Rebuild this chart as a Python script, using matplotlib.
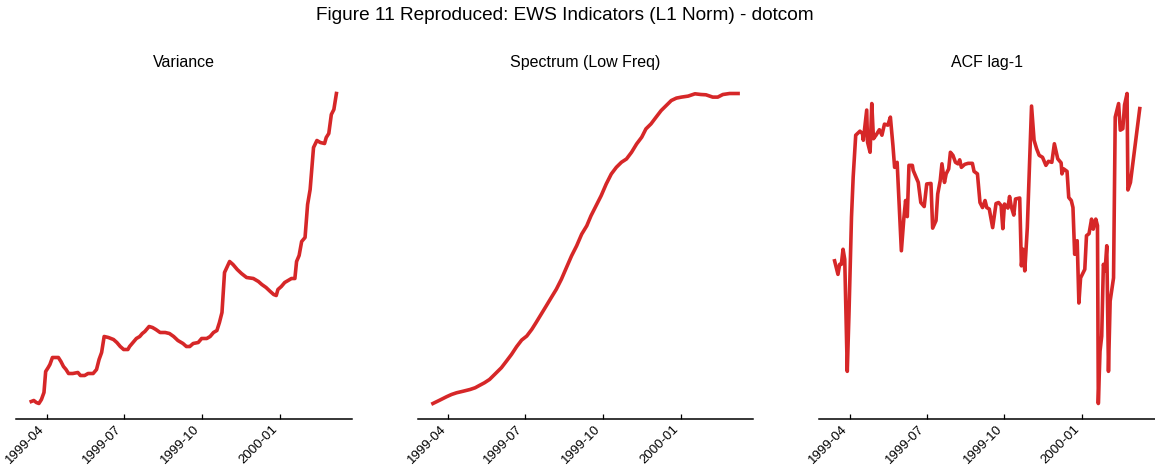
import pandas as pd
import matplotlib
matplotlib.use("Agg")
import matplotlib.pyplot as plt

plt.rcParams['font.family'] = ['Liberation Sans', 'DejaVu Sans']

# day offsets from 1999-04-01 and values (y scale is hidden)
start = pd.Timestamp('1999-04-01')

var_days = [-18, -15, -12, -9, -6, -3, -1, 2, 4, 7, 14, 17, 20, 23, 26, 31, 37,
            40, 45, 49, 55, 59, 62, 65, 68, 73, 79, 83, 87, 91, 96, 98, 102, 106,
            110, 113, 116, 121, 125, 129, 134, 140, 145, 150, 155, 161, 165, 169,
            173, 179, 183, 189, 193, 197, 201, 204, 207, 210, 216, 220, 225, 230,
            236, 244, 250, 254, 259, 264, 268, 271, 273, 277, 281, 285, 289, 293,
            295, 298, 301, 305, 308, 311, 315, 319, 323, 328, 330, 333, 336, 339, 342]
var_vals = [0.17, 0.18, 0.16, 0.15, 0.19, 0.26, 0.47, 0.51, 0.54, 0.61, 0.61, 0.57,
            0.52, 0.49, 0.45, 0.45, 0.46, 0.43, 0.43, 0.45, 0.45, 0.49, 0.59, 0.66,
            0.82, 0.81, 0.79, 0.76, 0.72, 0.69, 0.69, 0.72, 0.76, 0.80, 0.82, 0.85,
            0.87, 0.92, 0.91, 0.89, 0.86, 0.86, 0.85, 0.82, 0.78, 0.75, 0.72, 0.72,
            0.75, 0.76, 0.80, 0.80, 0.82, 0.86, 0.88, 0.96, 1.06, 1.46, 1.57, 1.54,
            1.49, 1.45, 1.41, 1.40, 1.37, 1.34, 1.31, 1.27, 1.24, 1.23, 1.29, 1.32,
            1.36, 1.38, 1.40, 1.40, 1.57, 1.63, 1.77, 1.81, 2.14, 2.29, 2.71, 2.78,
            2.76, 2.75, 2.81, 2.85, 3.04, 3.09, 3.25]

spec_days = [-18, -10, -2, 4, 10, 18, 26, 32, 37, 43, 49, 55, 63, 69, 75, 81, 87,
             93, 99, 104, 110, 116, 122, 128, 134, 140, 146, 152, 158, 164, 169,
             175, 181, 187, 193, 199, 205, 211, 217, 223, 229, 234, 240, 246, 252,
             258, 264, 270, 276, 284, 292, 299, 305, 313, 319, 325, 333, 343]
spec_vals = [0.150, 0.183, 0.217, 0.240, 0.257, 0.273, 0.290, 0.307, 0.330, 0.357,
             0.390, 0.440, 0.507, 0.573, 0.640, 0.717, 0.783, 0.823, 0.890, 0.957,
             1.040, 1.123, 1.207, 1.290, 1.390, 1.507, 1.623, 1.723, 1.840, 1.923,
             2.023, 2.123, 2.223, 2.340, 2.440, 2.507, 2.557, 2.590, 2.657, 2.740,
             2.807, 2.890, 2.940, 3.007, 3.073, 3.123, 3.173, 3.197, 3.207, 3.217,
             3.240, 3.233, 3.230, 3.207, 3.207, 3.233, 3.243, 3.243]

acf_days = [-18, -14, -12, -10, -8, -6, -3, -1, 2, 4, 7, 12, 15, 16, 20, 21, 24,
            26, 28, 31, 35, 38, 41, 45, 48, 51, 53, 56, 61, 64, 66, 68, 70, 74, 75,
            81, 84, 88, 89, 91, 96, 98, 102, 104, 107, 109, 112, 114, 117, 119, 122,
            125, 128, 130, 132, 136, 140, 145, 147, 151, 154, 157, 160, 162, 165,
            169, 173, 176, 179, 181, 183, 187, 189, 191, 194, 196, 201, 203, 205,
            207, 210, 215, 218, 221, 224, 228, 232, 235, 239, 242, 246, 250, 251,
            253, 257, 259, 262, 264, 266, 269, 271, 273, 278, 280, 283, 286, 288,
            291, 293, 294, 296, 298, 300, 302, 304, 306, 308, 312, 314, 318, 320,
            323, 325, 328, 329, 332, 343]
acf_vals = [0.515, 0.488, 0.508, 0.508, 0.538, 0.518, 0.295, 0.408, 0.602, 0.682,
            0.765, 0.773, 0.768, 0.755, 0.815, 0.751, 0.731, 0.828, 0.758, 0.765,
            0.776, 0.765, 0.787, 0.785, 0.801, 0.745, 0.701, 0.711, 0.535, 0.601,
            0.635, 0.603, 0.705, 0.705, 0.695, 0.671, 0.631, 0.623, 0.638, 0.668,
            0.669, 0.580, 0.595, 0.648, 0.675, 0.708, 0.671, 0.688, 0.698, 0.731,
            0.725, 0.711, 0.708, 0.716, 0.701, 0.707, 0.709, 0.709, 0.693, 0.688,
            0.631, 0.621, 0.635, 0.621, 0.618, 0.581, 0.629, 0.631, 0.625, 0.579,
            0.628, 0.620, 0.643, 0.623, 0.606, 0.638, 0.640, 0.505, 0.538, 0.495,
            0.581, 0.823, 0.755, 0.738, 0.725, 0.721, 0.705, 0.713, 0.711, 0.748,
            0.718, 0.710, 0.688, 0.698, 0.693, 0.641, 0.635, 0.621, 0.528, 0.555,
            0.431, 0.481, 0.498, 0.565, 0.569, 0.598, 0.578, 0.598, 0.585, 0.231,
            0.335, 0.365, 0.508, 0.495, 0.545, 0.295, 0.435, 0.481, 0.801, 0.828,
            0.775, 0.778, 0.825, 0.848, 0.656, 0.671, 0.818]

titles = ['Variance', 'Spectrum (Low Freq)', 'ACF lag-1']
tick_dates = ['1999-04-01', '1999-07-01', '1999-10-01', '2000-01-01']
tick_labels = ['1999-04', '1999-07', '1999-10', '2000-01']

series = [(var_days, var_vals), (spec_days, spec_vals), (acf_days, acf_vals)]

fig = plt.figure(figsize=(11.55, 4.68), dpi=100)
axes = fig.subplots(1, 3)
fig.subplots_adjust(left=16/1155, right=1.0, bottom=49/468, top=1 - 78/468,
                    wspace=66/335.7)

for ax, (days, vals), title in zip(axes, series, titles):
    dates = start + pd.to_timedelta(days, unit='D')
    ax.plot(dates, vals, color='#d62728', lw=2.6)
    ax.set_title(title, fontsize=11.5, pad=8)
    for s in ['left', 'right', 'top']:
        ax.spines[s].set_visible(False)
    ax.spines['bottom'].set_linewidth(1.1)
    ax.set_yticks([])
    ax.set_xticks(pd.to_datetime(tick_dates))
    ax.set_xticklabels(tick_labels, rotation=45, ha='right')
    ax.tick_params(axis='x', direction='in', length=3.6, width=0.9,
                   labelsize=9.5, pad=3)

fig.suptitle('Figure 11 Reproduced: EWS Indicators (L1 Norm) - dotcom',
             x=0.489, y=0.958, va='baseline', fontsize=13.7)

fig.savefig('out.png', dpi=100)
